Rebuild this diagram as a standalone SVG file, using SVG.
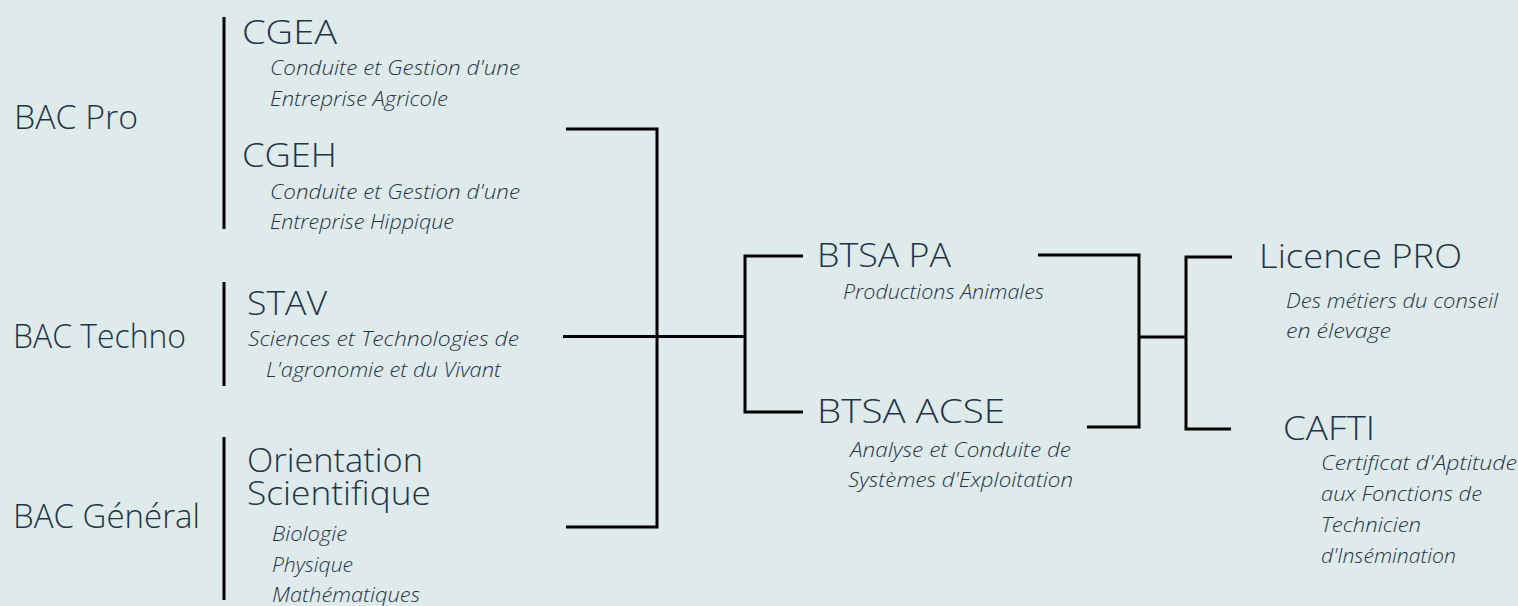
<svg xmlns="http://www.w3.org/2000/svg" width="1518" height="606" viewBox="0 0 1518 606">
<style>
.t{font-family:"Open Sans",Lato,sans-serif;fill:#1f3547;font-size:33px;font-weight:300}
.s{font-family:"Open Sans",Lato,sans-serif;fill:#1f3547;font-size:19.5px;font-style:italic;font-weight:300}
.c{stroke:#000;stroke-width:3;fill:none}
</style>
<rect width="1518" height="606" fill="#dfeaeb"/>
<g id="connectors">
<line class="c" x1="224" y1="17" x2="224" y2="229"/>
<line class="c" x1="224" y1="282" x2="224" y2="386"/>
<line class="c" x1="224" y1="437" x2="224" y2="600"/>
<path class="c" d="M566 129H657V527H566"/>
<path class="c" d="M563 336.5H745"/>
<path class="c" d="M803 256H745V412H803"/>
<path class="c" d="M1038 255H1139V427H1087"/>
<path class="c" d="M1139 337H1186"/>
<path class="c" d="M1232 257H1186V429H1231"/>
</g>
<g id="bac-pro"><text class="t" x="14" y="129" textLength="124" lengthAdjust="spacingAndGlyphs">BAC Pro</text></g>
<g id="cgea"><text class="t" x="242" y="44" textLength="95" lengthAdjust="spacingAndGlyphs">CGEA</text>
<text class="s" x="270" y="75" textLength="250" lengthAdjust="spacingAndGlyphs">Conduite et Gestion d'une</text>
<text class="s" x="270" y="106" textLength="178" lengthAdjust="spacingAndGlyphs">Entreprise Agricole</text></g>
<g id="cgeh"><text class="t" x="242" y="167" textLength="95" lengthAdjust="spacingAndGlyphs">CGEH</text>
<text class="s" x="270" y="199" textLength="250" lengthAdjust="spacingAndGlyphs">Conduite et Gestion d'une</text>
<text class="s" x="270" y="229" textLength="184" lengthAdjust="spacingAndGlyphs">Entreprise Hippique</text></g>
<g id="bac-techno"><text class="t" x="13" y="348" textLength="173" lengthAdjust="spacingAndGlyphs">BAC Techno</text></g>
<g id="stav"><text class="t" x="247" y="315" textLength="80" lengthAdjust="spacingAndGlyphs">STAV</text>
<text class="s" x="248" y="346" textLength="271" lengthAdjust="spacingAndGlyphs">Sciences et Technologies de</text>
<text class="s" x="266" y="377" textLength="235" lengthAdjust="spacingAndGlyphs">L'agronomie et du Vivant</text></g>
<g id="bac-general"><text class="t" x="13" y="528" textLength="187" lengthAdjust="spacingAndGlyphs">BAC Général</text></g>
<g id="orientation"><text class="t" x="247" y="472" textLength="176" lengthAdjust="spacingAndGlyphs">Orientation</text>
<text class="t" x="247" y="505" textLength="184" lengthAdjust="spacingAndGlyphs">Scientifique</text>
<text class="s" x="272" y="541" textLength="75" lengthAdjust="spacingAndGlyphs">Biologie</text>
<text class="s" x="272" y="572" textLength="81" lengthAdjust="spacingAndGlyphs">Physique</text>
<text class="s" x="272" y="602" textLength="148" lengthAdjust="spacingAndGlyphs">Mathématiques</text></g>
<g id="btsa-pa"><text class="t" x="817" y="267" textLength="134" lengthAdjust="spacingAndGlyphs">BTSA PA</text>
<text class="s" x="843" y="299" textLength="201" lengthAdjust="spacingAndGlyphs">Productions Animales</text></g>
<g id="btsa-acse"><text class="t" x="817" y="423" textLength="188" lengthAdjust="spacingAndGlyphs">BTSA ACSE</text>
<text class="s" x="850" y="457" textLength="221" lengthAdjust="spacingAndGlyphs">Analyse et Conduite de</text>
<text class="s" x="848" y="487" textLength="225" lengthAdjust="spacingAndGlyphs">Systèmes d'Exploitation</text></g>
<g id="licence-pro"><text class="t" x="1259" y="268" textLength="203" lengthAdjust="spacingAndGlyphs">Licence PRO</text>
<text class="s" x="1286" y="308" textLength="212" lengthAdjust="spacingAndGlyphs">Des métiers du conseil</text>
<text class="s" x="1286" y="338" textLength="105" lengthAdjust="spacingAndGlyphs">en élevage</text></g>
<g id="cafti"><text class="t" x="1283" y="440" textLength="92" lengthAdjust="spacingAndGlyphs">CAFTI</text>
<text class="s" x="1321" y="470" textLength="196" lengthAdjust="spacingAndGlyphs">Certificat d'Aptitude</text>
<text class="s" x="1321" y="501" textLength="161" lengthAdjust="spacingAndGlyphs">aux Fonctions de</text>
<text class="s" x="1321" y="532" textLength="100" lengthAdjust="spacingAndGlyphs">Technicien</text>
<text class="s" x="1321" y="563" textLength="135" lengthAdjust="spacingAndGlyphs">d'Insémination</text></g>
</svg>
